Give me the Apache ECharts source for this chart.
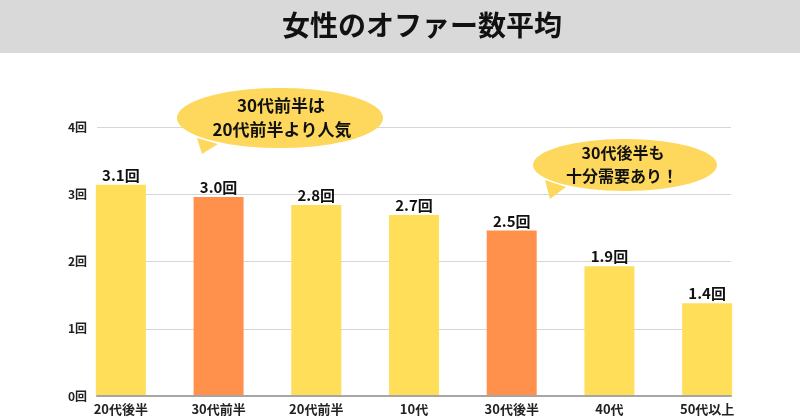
<!DOCTYPE html>
<html><head><meta charset="utf-8">
<script src="https://cdn.jsdelivr.net/npm/echarts@6/dist/echarts.min.js"></script>
<style>html,body{margin:0;padding:0;background:#fff}#c{width:800px;height:420px}</style>
</head><body><div id="c"></div>
<script>
const categories = ['20代後半','30代前半','20代前半','10代','30代後半','40代','50代以上'];
const values = [3.14, 2.96, 2.84, 2.69, 2.46, 1.93, 1.38];
const highlight = [false, true, false, false, true, false, false];
const yTicks = [0, 1, 2, 3, 4];
const titleText = '女性のオファー数平均';
const note1 = ['30代前半は', '20代前半より人気'];
const note2 = ['30代後半も', '十分需要あり！'];

const FONT = '"Noto Sans CJK JP", "Noto Sans", sans-serif';
const YEL = '#FFDE59', ORG = '#FF914D', BUB = '#FDD85C';
const chart = echarts.init(document.getElementById('c'), null, {renderer: 'canvas'});
chart.setOption({
  animation: false,
  backgroundColor: '#fff',
  textStyle: {fontFamily: FONT},
  grid: [
    {left: 72, right: 44, top: 127, bottom: 24},
    {left: 97, right: 69, top: 127, bottom: 24}
  ],
  xAxis: [
    {type: 'category', gridIndex: 0, data: categories, axisLine: {show: false}, axisTick: {show: false},
     axisLabel: {color: '#222', fontSize: 13, fontWeight: 'bold', fontFamily: FONT, margin: 7}},
    {type: 'category', gridIndex: 1, data: categories, axisLine: {show: true, lineStyle: {color: '#a6a6a6', width: 2}},
     axisTick: {show: false}, axisLabel: {show: false}, z: 5}
  ],
  yAxis: [
    {type: 'value', gridIndex: 0, min: 0, max: yTicks[yTicks.length-1], interval: 1, show: false, splitLine: {show: false}},
    {type: 'value', gridIndex: 1, min: 0, max: yTicks[yTicks.length-1], interval: 1,
     axisLine: {show: false}, axisTick: {show: false},
     axisLabel: {color: '#222', fontSize: 12, fontWeight: 'bold', fontFamily: FONT, margin: 10, formatter: v => v + '回'},
     splitLine: {lineStyle: {color: '#d6d6d6', width: 1}}}
  ],
  series: [{
    type: 'bar', xAxisIndex: 0, yAxisIndex: 0, barWidth: 50, z: 3,
    data: values.map((v, i) => ({value: v, itemStyle: {color: highlight[i] ? ORG : YEL}})),
    label: {show: true, position: 'top', distance: 2, color: '#111', fontSize: 15, fontWeight: 'bold',
      fontFamily: FONT, formatter: p => p.value.toFixed(1) + '回'}
  }],
  graphic: [
    {type: 'rect', shape: {x: 0, y: 0, width: 800, height: 53}, style: {fill: '#d9d9d9'}, z: 10},
    {type: 'text', x: 422, y: 25, z: 11, style: {text: titleText, fill: '#111', font: 'bold 28px ' + FONT, align: 'center', verticalAlign: 'middle'}},
    {type: 'polygon', z: 10, shape: {points: [[197, 138], [218, 144], [202, 154]]}, style: {fill: BUB}},
    {type: 'ellipse', z: 10, shape: {cx: 280, cy: 118, rx: 103, ry: 30}, style: {fill: BUB}},
    {type: 'text', x: 281, y: 106, z: 11, style: {text: note1[0], fill: '#111', font: 'bold 17px ' + FONT, align: 'center', verticalAlign: 'middle'}},
    {type: 'text', x: 282, y: 130, z: 11, style: {text: note1[1], fill: '#111', font: 'bold 17px ' + FONT, align: 'center', verticalAlign: 'middle'}},
    {type: 'polygon', z: 10, shape: {points: [[545, 180], [566, 187], [550, 199]]}, style: {fill: BUB}},
    {type: 'ellipse', z: 10, shape: {cx: 625, cy: 165, rx: 92, ry: 26}, style: {fill: BUB}},
    {type: 'text', x: 623, y: 153, z: 11, style: {text: note2[0], fill: '#111', font: 'bold 16px ' + FONT, align: 'center', verticalAlign: 'middle'}},
    {type: 'text', x: 622, y: 176, z: 11, style: {text: note2[1], fill: '#111', font: 'bold 16px ' + FONT, align: 'center', verticalAlign: 'middle'}}
  ]
});
</script></body></html>
